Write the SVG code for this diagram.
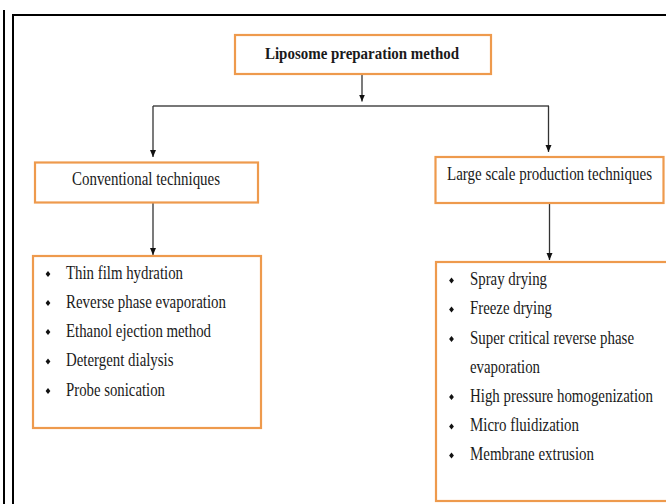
<svg xmlns="http://www.w3.org/2000/svg" width="666" height="504" viewBox="0 0 666 504">
<style>
.box{fill:#fff;stroke:#EE9A4D;stroke-width:2.2}
.t{font-family:"Liberation Serif","Times New Roman",serif;font-size:15px;fill:#1a1a1a}
.b{font-weight:bold}
.c{stroke:#333;stroke-width:1.3;fill:none}
.h{stroke:#777;stroke-width:1.8;fill:none}
.frame{stroke:#000;stroke-width:2;fill:none}
</style>
<defs>
<marker id="arr" markerUnits="userSpaceOnUse" markerWidth="8" markerHeight="8" refX="7" refY="3" orient="auto">
<path d="M0,0 L7,3 L0,6 z" fill="#111"/>
</marker>
<path id="dot" d="M0,-3 L2.4,0 L0,3 L-2.4,0 z" fill="#111"/>
</defs>
<rect width="666" height="504" fill="#fff"/>
<g id="frame">
<line class="frame" x1="4" y1="10" x2="4" y2="504"/>
<path class="frame" d="M13,504 V15 H666"/>
</g>
<g id="connectors">
<line class="c" x1="362" y1="74" x2="362" y2="101.5" marker-end="url(#arr)"/>
<line class="h" x1="153" y1="106" x2="549" y2="106"/>
<line class="c" x1="153" y1="106" x2="153" y2="157" marker-end="url(#arr)"/>
<line class="c" x1="548.5" y1="106" x2="548.5" y2="152" marker-end="url(#arr)"/>
<line class="c" x1="153" y1="202" x2="153" y2="255" marker-end="url(#arr)"/>
<line class="c" x1="549.5" y1="203" x2="549.5" y2="260" marker-end="url(#arr)"/>
</g>
<g id="root">
<rect class="box" x="235" y="35" width="256" height="39"/>
<text class="t b" transform="translate(265,59) scale(1,1.18)" textLength="194" lengthAdjust="spacingAndGlyphs">Liposome preparation method</text>
</g>
<g id="conventional">
<rect class="box" x="35" y="162.5" width="223" height="40"/>
<text class="t" transform="translate(72,185) scale(1,1.2)" textLength="148" lengthAdjust="spacingAndGlyphs">Conventional techniques</text>
</g>
<g id="large-scale">
<rect class="box" x="435.5" y="157" width="228" height="46"/>
<text class="t" transform="translate(447,180) scale(1,1.2)" textLength="205" lengthAdjust="spacingAndGlyphs">Large scale production techniques</text>
</g>
<g id="conventional-list">
<rect class="box" x="33" y="256" width="228" height="172"/>
<use href="#dot" x="48" y="274"/>
<text class="t" transform="translate(66,278.5) scale(1,1.2)" textLength="117" lengthAdjust="spacingAndGlyphs">Thin film hydration</text>
<use href="#dot" x="48" y="303"/>
<text class="t" transform="translate(66,307.5) scale(1,1.2)" textLength="160" lengthAdjust="spacingAndGlyphs">Reverse phase evaporation</text>
<use href="#dot" x="48" y="332"/>
<text class="t" transform="translate(66,336.5) scale(1,1.2)" textLength="145" lengthAdjust="spacingAndGlyphs">Ethanol ejection method</text>
<use href="#dot" x="48" y="361.5"/>
<text class="t" transform="translate(66,366) scale(1,1.2)" textLength="107.5" lengthAdjust="spacingAndGlyphs">Detergent dialysis</text>
<use href="#dot" x="48" y="391"/>
<text class="t" transform="translate(66,395.5) scale(1,1.2)" textLength="99" lengthAdjust="spacingAndGlyphs">Probe sonication</text>
</g>
<g id="large-scale-list">
<rect class="box" x="436" y="262" width="240" height="239"/>
<use href="#dot" x="451.5" y="280.5"/>
<text class="t" transform="translate(470,285) scale(1,1.2)" textLength="77" lengthAdjust="spacingAndGlyphs">Spray drying</text>
<use href="#dot" x="451.5" y="309.5"/>
<text class="t" transform="translate(470,314) scale(1,1.2)" textLength="82" lengthAdjust="spacingAndGlyphs">Freeze drying</text>
<use href="#dot" x="451.5" y="339"/>
<text class="t" transform="translate(470,343.5) scale(1,1.2)" textLength="164" lengthAdjust="spacingAndGlyphs">Super critical reverse phase</text>
<text class="t" transform="translate(470,372.5) scale(1,1.2)" textLength="70" lengthAdjust="spacingAndGlyphs">evaporation</text>
<use href="#dot" x="451.5" y="397"/>
<text class="t" transform="translate(470,401.5) scale(1,1.2)" textLength="183" lengthAdjust="spacingAndGlyphs">High pressure homogenization</text>
<use href="#dot" x="451.5" y="426.5"/>
<text class="t" transform="translate(470,431) scale(1,1.2)" textLength="109" lengthAdjust="spacingAndGlyphs">Micro fluidization</text>
<use href="#dot" x="451.5" y="455.5"/>
<text class="t" transform="translate(470,460) scale(1,1.2)" textLength="124" lengthAdjust="spacingAndGlyphs">Membrane extrusion</text>
</g>
</svg>
